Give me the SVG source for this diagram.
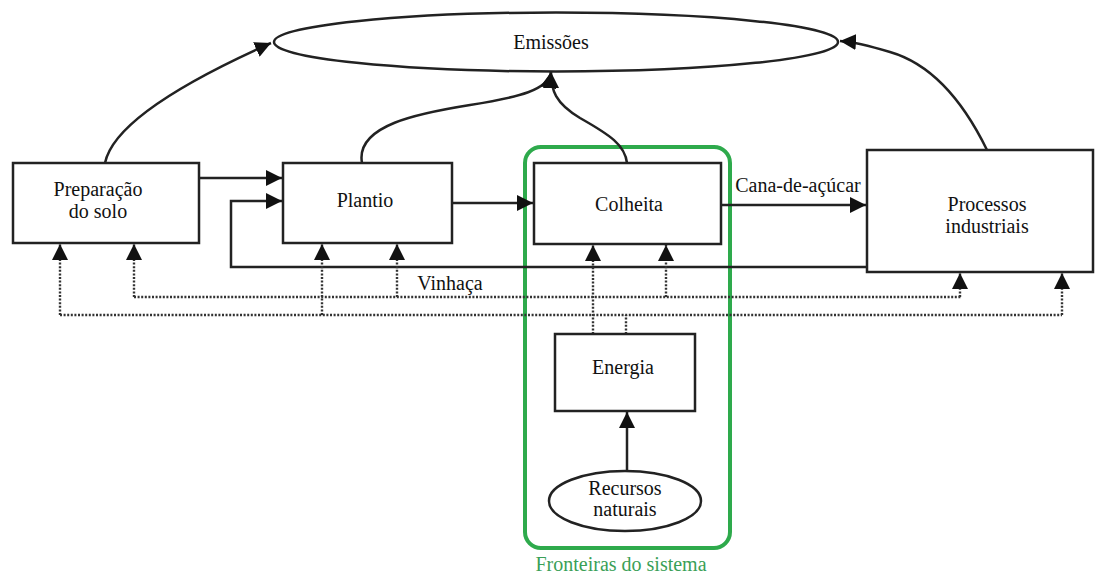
<svg xmlns="http://www.w3.org/2000/svg" width="1099" height="579" viewBox="0 0 1099 579">
<style>
.box{fill:#fff;stroke:#222;stroke-width:2.5}
text{font-family:'Liberation Serif','DejaVu Serif','Times New Roman',serif;font-size:20px;fill:#111;text-anchor:middle}
.ln{fill:none;stroke:#222;stroke-width:2.5}
.dt{fill:none;stroke:#333;stroke-width:2.4;stroke-dasharray:2 1.6}
</style>
<defs>
<marker id="ah" markerUnits="userSpaceOnUse" markerWidth="17" markerHeight="16" refX="16" refY="8" orient="auto" viewBox="0 0 17 16">
<path d="M0,0 L16,8 L0,16 z" fill="#111"/>
</marker>
</defs>
<rect width="1099" height="579" fill="#fff"/>
<g id="fronteira">
<rect x="525" y="147" width="205" height="401" rx="16" fill="none" stroke="#2eaa4c" stroke-width="4"/>
<text x="621" y="571" fill="#3a9f57" style="fill:#3a9f57">Fronteiras do sistema</text>
</g>
<g id="connectors">
<path class="ln" d="M199,178 H282" marker-end="url(#ah)"/>
<path class="ln" d="M452,203 H533" marker-end="url(#ah)"/>
<path class="ln" d="M721,205 H866" marker-end="url(#ah)"/>
<path class="ln" d="M866,267 H231 V201 H282" marker-end="url(#ah)"/>
<path class="ln" d="M627,471 V412" marker-end="url(#ah)"/>
<path class="ln" d="M105,163 C112,128 170,88 271,43" marker-end="url(#ah)"/>
<path class="ln" d="M362,163 C355,125 420,113 470,105 C520,97 548,90 551,72" marker-end="url(#ah)"/>
<path class="ln" d="M627,163 C625,145 610,135 580,118 C555,103 551,90 551,72" marker-end="url(#ah)"/>
<path class="ln" d="M987,150 C965,105 935,65 890,52 C870,46 855,42 840,41" marker-end="url(#ah)"/>
<path class="dt" d="M134,297 H962"/>
<path class="dt" d="M60,315 H1062"/>
<path class="dt" d="M626,334 V315"/>
<path class="dt" d="M60,315 V244" marker-end="url(#ah)"/>
<path class="dt" d="M134,297 V244" marker-end="url(#ah)"/>
<path class="dt" d="M322,315 V244" marker-end="url(#ah)"/>
<path class="dt" d="M397,297 V244" marker-end="url(#ah)"/>
<path class="dt" d="M593,334 V245" marker-end="url(#ah)"/>
<path class="dt" d="M666,297 V245" marker-end="url(#ah)"/>
<path class="dt" d="M960,297 V273" marker-end="url(#ah)"/>
<path class="dt" d="M1062,315 V273" marker-end="url(#ah)"/>
<text x="798" y="192">Cana-de-açúcar</text>
<text x="450" y="290">Vinhaça</text>
</g>
<g id="emissoes">
<ellipse cx="556" cy="42" rx="282" ry="29.5" fill="#fff" stroke="#222" stroke-width="2.5"/>
<text x="551" y="49">Emissões</text>
</g>
<g id="preparacao">
<rect class="box" x="13" y="163" width="186" height="80"/>
<text x="98" y="196">Preparação</text>
<text x="98" y="218">do solo</text>
</g>
<g id="plantio">
<rect class="box" x="283" y="163" width="169" height="80"/>
<text x="365" y="207">Plantio</text>
</g>
<g id="colheita">
<rect class="box" x="534" y="163" width="187" height="81"/>
<text x="629" y="211">Colheita</text>
</g>
<g id="processos">
<rect class="box" x="867" y="150" width="226" height="122"/>
<text x="987" y="211">Processos</text>
<text x="987" y="233">industriais</text>
</g>
<g id="energia">
<rect class="box" x="555" y="334" width="140" height="77"/>
<text x="623" y="374">Energia</text>
</g>
<g id="recursos">
<ellipse cx="625" cy="501" rx="76" ry="30" fill="#fff" stroke="#222" stroke-width="2.5"/>
<text x="625" y="495">Recursos</text>
<text x="625" y="516">naturais</text>
</g>
</svg>
